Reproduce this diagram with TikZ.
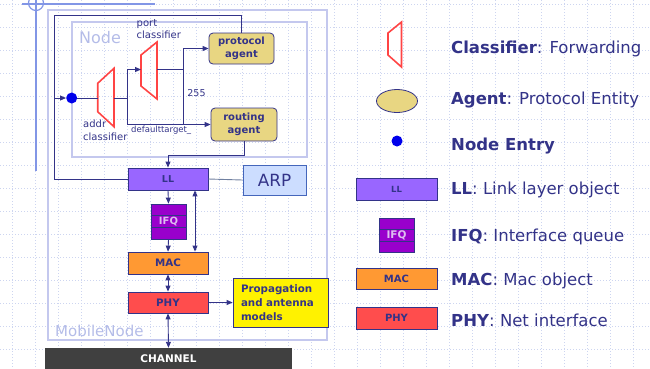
\documentclass[tikz,border=0pt]{standalone}
\usepackage{fontspec}
\setmainfont{DejaVu Sans}
\usetikzlibrary{arrows.meta,calc,shapes.geometric}
\definecolor{navy}{RGB}{51,51,136}
\definecolor{gridc}{RGB}{205,213,240}
\definecolor{deco}{RGB}{130,150,230}
\definecolor{frame}{RGB}{196,200,238}
\definecolor{framet}{RGB}{180,188,232}
\definecolor{agentc}{RGB}{232,214,130}
\definecolor{llc}{RGB}{153,102,255}
\definecolor{ifqc}{RGB}{153,0,204}
\definecolor{ifqt}{RGB}{222,190,240}
\definecolor{macc}{RGB}{255,153,51}
\definecolor{phyc}{RGB}{255,77,77}
\definecolor{arpc}{RGB}{204,221,255}
\definecolor{arpb}{RGB}{68,102,187}
\definecolor{clsred}{RGB}{255,68,68}
\definecolor{chanc}{RGB}{64,64,64}
\definecolor{entryc}{RGB}{0,0,235}
\definecolor{grayline}{RGB}{112,128,160}
\tikzset{
  box/.style={draw=navy, line width=0.8pt, minimum width=80pt, minimum height=22pt, inner sep=0pt, text=navy, font=\fontsize{10.3}{12}\selectfont\bfseries},
  agent/.style={box, fill=agentc, rounded corners=4pt, minimum width=65pt, minimum height=31pt, align=center, font=\fontsize{10}{13.5}\selectfont\bfseries},
  conn/.style={draw=navy, line width=0.9pt},
  arr/.style={conn, -{Triangle[length=6pt,width=5pt]}},
  darr/.style={conn, {Triangle[length=6pt,width=5pt]}-{Triangle[length=6pt,width=5pt]}},
  classif/.style={draw=clsred, line width=1.6pt, line join=miter},
  lbl/.style={text=navy, inner sep=0pt},
  legend/.style={text=navy, anchor=base west, inner sep=0pt, font=\fontsize{16.5}{20}\selectfont},
  framelbl/.style={text=framet, inner sep=0pt, anchor=west},
  entrydot/.style={circle, fill=entryc, minimum size=11pt, inner sep=0pt}
}
\begin{document}
\begin{tikzpicture}[x=1pt,y=-1pt]
\useasboundingbox (0,0) rectangle (650,368);
% background grid
\foreach \gx in {12,35,...,650} \draw[gridc, line width=0.6pt, dash pattern=on 1pt off 2pt] (\gx,0) -- (\gx,368);
\foreach \gy in {4,27,...,368} \draw[gridc, line width=0.6pt, dash pattern=on 1pt off 2pt] (0,\gy) -- (650,\gy);
% template decoration
\draw[deco, line width=1.6pt] (36,0) -- (36,171);
\draw[deco, line width=1.2pt] (22,4) -- (155,4);
\draw[deco, line width=1.2pt] (36,3) circle (7.5);
% frames
\draw[frame, line width=1.5pt] (48,10) rectangle (327,340);
\draw[frame, line width=1.2pt] (72,22) rectangle (307,157);
\node[framelbl, font=\fontsize{16}{18}\selectfont] (nodelbl) at (79,38) {Node};
\node[framelbl, font=\fontsize{15}{18}\selectfont] (mnlbl) at (55,331) {MobileNode};

% agents
\node[agent] (pa) at (241.5,48.5) {protocol\\agent};
\node[agent, minimum width=66pt, minimum height=33pt] (ra) at (244,124.5) {routing\\agent};

% entry
\node[entrydot] (entry) at (71.7,98) {};

% classifiers
\draw[classif] (97.7,83.3) -- (114,68.3) -- (114,126.7) -- (97.7,111.7) -- cycle;
\draw[classif] (141,55) -- (157,42) -- (157,99) -- (141,86) -- cycle;
\coordinate (addrL) at (97.7,98);
\coordinate (addrR) at (114,98);
\coordinate (portL) at (141,69.5);
\coordinate (portR) at (157,69.5);
\coordinate (split1) at (127.5,98);
\coordinate (split2) at (183,69.5);
\coordinate (loopTL) at (54,15);
\coordinate (loopM) at (54,98);
\coordinate (rabend) at (244,155);
\coordinate (dbl) at (195,0);

\node[lbl, align=left, anchor=west, font=\fontsize{10}{12.8}\selectfont] (portlbl) at (136.5,29) {port\\classifier};
\node[lbl, align=left, anchor=west, font=\fontsize{10}{12.8}\selectfont] (addrlbl) at (83,130.5) {addr\\classifier};
\node[lbl, font=\fontsize{9.5}{11}\selectfont] (n255) at (196.5,93) {255};
\node[lbl, anchor=west, font=\fontsize{8.5}{10}\selectfont] (deflbl) at (131,130) {defaulttarget\_};

% stack boxes
\node[box, fill=llc, font=\fontsize{9.5}{11}\selectfont\bfseries] (ll) at (168,179) {LL};
\node[box, fill=arpc, draw=arpb, minimum width=63pt, minimum height=30pt, font=\fontsize{16.8}{18}\selectfont, text=navy] (arp) at (274.5,180) {ARP};
\node[box, fill=ifqc, minimum width=35pt, minimum height=35pt, text=ifqt, font=\fontsize{10}{12}\selectfont\bfseries] (ifq) at (168.5,221.5) {IFQ};
\draw[navy, line width=0.6pt] ($(ifq.north west)!1/3!(ifq.south west)$) -- ($(ifq.north east)!1/3!(ifq.south east)$);
\draw[navy, line width=0.6pt] ($(ifq.north west)!2/3!(ifq.south west)$) -- ($(ifq.north east)!2/3!(ifq.south east)$);
\node[box, fill=macc] (mac) at (168,263) {MAC};
\node[box, fill=phyc, minimum height=21pt] (phy) at (168,302.5) {PHY};
\node[box, fill=yellow, minimum height=49pt, text width=79pt, inner xsep=8pt, align=left, font=\fontsize{10.3}{14}\selectfont\bfseries] (prop) at (280.5,302.5) {Propagation\\and antenna\\models};
\node[fill=chanc, minimum width=247pt, minimum height=22pt, inner sep=0pt, text=white, font=\fontsize{10.5}{12}\selectfont\bfseries] (chan) at (168.5,359) {CHANNEL};

% connectors
\draw[conn] (pa.north) |- (loopTL) |- (ll.west);
\draw[arr] (loopM) -- (entry.west);
\draw[conn] (entry.east) -- (addrL);
\draw[conn] (addrR) -- (split1);
\draw[arr] (split1) |- (portL);
\draw[arr] (split1) |- (ra.west);
\draw[conn] (portR) -- (split2);
\draw[arr] (split2) |- (pa.west);
\draw[conn] (split2) -- (split2 |- ra.west);
\draw[arr] (ra.south) -- (rabend) -| (ll.north);
\draw[grayline, line width=0.9pt] (ll.east) -- (arp.west);
\draw[arr] (ll.south) -- (ifq.north);
\draw[arr] (ifq.south) -- (mac.north);
\draw[darr] (ll.south -| dbl) -- (mac.north -| dbl);
\draw[darr] (mac.south) -- (phy.north);
\draw[arr] (phy.east) -- (prop.west);
\draw[darr] (phy.south) -- (chan.north);

% legend
\draw[classif] (388,33) -- (401.5,22) -- (401.5,67) -- (388,55) -- cycle;
\node[lbl] (lgcls) at (395,44.5) {};
\node[legend] (tcls) at (451,53) {\textbf{Classifier}: Forwarding};
\node[ellipse, fill=agentc, draw=navy, line width=0.8pt, minimum width=41pt, minimum height=23pt, inner sep=0pt] (lgag) at (397,101) {};
\node[legend] (tag) at (451,104) {\textbf{Agent}: Protocol Entity};
\node[entrydot] (lgent) at (397,141) {};
\node[legend] (tent) at (451,150) {\textbf{Node Entry}};
\node[box, fill=llc, minimum width=81pt, font=\fontsize{8.5}{10}\selectfont\bfseries] (lgll) at (396.5,189) {LL};
\node[legend] (tll) at (451,194) {\textbf{LL}: Link layer object};
\node[box, fill=ifqc, minimum width=35pt, minimum height=34pt, text=ifqt, font=\fontsize{10.5}{12}\selectfont\bfseries] (lgifq) at (396.5,235) {IFQ};
\draw[navy, line width=0.6pt] ($(lgifq.north west)!1/3!(lgifq.south west)$) -- ($(lgifq.north east)!1/3!(lgifq.south east)$);
\draw[navy, line width=0.6pt] ($(lgifq.north west)!2/3!(lgifq.south west)$) -- ($(lgifq.north east)!2/3!(lgifq.south east)$);
\node[legend] (tifq) at (451,241.7) {\textbf{IFQ}: Interface queue};
\node[box, fill=macc, minimum width=81pt, minimum height=21pt, font=\fontsize{10}{12}\selectfont\bfseries] (lgmac) at (396.5,278.5) {MAC};
\node[legend] (tmac) at (451,285.7) {\textbf{MAC}: Mac object};
\node[box, fill=phyc, minimum width=81pt, font=\fontsize{10}{12}\selectfont\bfseries] (lgphy) at (396.5,318) {PHY};
\node[legend] (tphy) at (451,326.5) {\textbf{PHY}: Net interface};
\end{tikzpicture}
\end{document}
